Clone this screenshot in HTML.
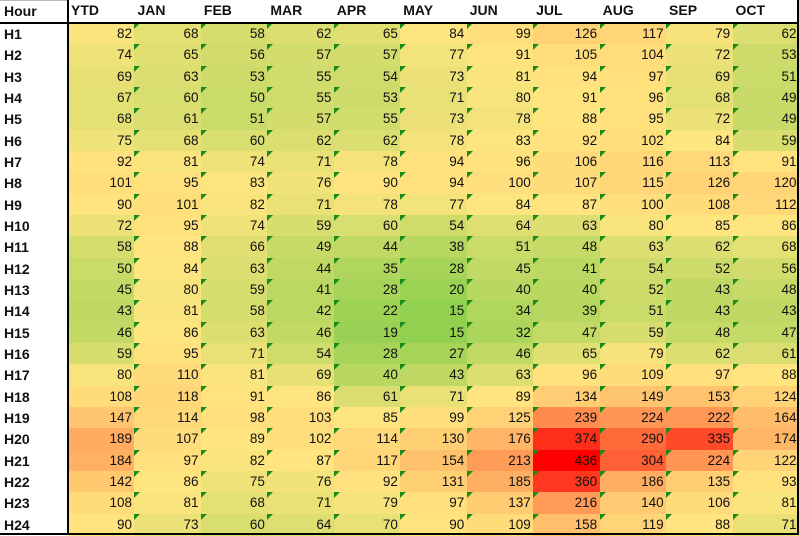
<!DOCTYPE html>
<html><head><meta charset="utf-8"><style>
body{margin:0;width:799px;height:535px;overflow:hidden;background:#fff;font-family:"Liberation Sans",Arial,sans-serif;}
.c{position:absolute;box-sizing:border-box;font-size:13.5px;line-height:21px;color:#111;}
.h{font-weight:bold;font-size:14px;}
.tri{position:absolute;left:0;top:0;width:0;height:0;border-top:6px solid #1a8a1a;border-right:6px solid transparent;}
.ln{position:absolute;background:#000;}
</style></head><body><div id="g"></div>
<script>
var data=`82 68 58 62 65 84 99 126 117 79 62
74 65 56 57 57 77 91 105 104 72 53
69 63 53 55 54 73 81 94 97 69 51
67 60 50 55 53 71 80 91 96 68 49
68 61 51 57 55 73 78 88 95 72 49
75 68 60 62 62 78 83 92 102 84 59
92 81 74 71 78 94 96 106 116 113 91
101 95 83 76 90 94 100 107 115 126 120
90 101 82 71 78 77 84 87 100 108 112
72 95 74 59 60 54 64 63 80 85 86
58 88 66 49 44 38 51 48 63 62 68
50 84 63 44 35 28 45 41 54 52 56
45 80 59 41 28 20 40 40 52 43 48
43 81 58 42 22 15 34 39 51 43 43
46 86 63 46 19 15 32 47 59 48 47
59 95 71 54 28 27 46 65 79 62 61
80 110 81 69 40 43 63 96 109 97 88
108 118 91 86 61 71 89 134 149 153 124
147 114 98 103 85 99 125 239 224 222 164
189 107 89 102 114 130 176 374 290 335 174
184 97 82 87 117 154 213 436 304 224 122
142 86 75 76 92 131 185 360 186 135 93
108 81 68 71 79 97 137 216 140 106 81
90 73 60 64 70 90 109 158 119 88 71`.split("\n").map(r=>r.split(" ").map(Number));
var hd=["YTD","JAN","FEB","MAR","APR","MAY","JUN","JUL","AUG","SEP","OCT"];
var g=document.getElementById("g"),s="";
var X0=68,W=66.45,Y0=23,H=21.33;
var G=[146,208,80],Yc=[255,229,128],R=[255,0,0],mn=15,md=85,mx=436;
function col(v){var a,b,t;if(v<=md){a=G;b=Yc;t=(v-mn)/(md-mn);}else{a=Yc;b=R;t=Math.pow((v-md)/(mx-md),1.15);}
return "rgb("+a.map((x,i)=>Math.round(x+(b[i]-x)*t)).join(",")+")";}
s+='<div class="c h" style="left:0;top:0;width:68px;height:23px;padding-left:4px;border-top:1px solid #bbb">Hour</div>';
hd.forEach((h,j)=>{s+='<div class="c h" style="left:'+(X0+j*W+3)+'px;top:0;width:'+W+'px;height:23px;">'+h+'</div>';});
data.forEach((r,i)=>{var y=Y0+i*H;
s+='<div class="c h" style="left:0;top:'+y+'px;width:68px;height:'+H+'px;padding-left:4px;line-height:'+(H+1)+'px">H'+(i+1)+'</div>';
r.forEach((v,j)=>{var x=X0+j*W;
s+='<div class="c" style="left:'+x+'px;top:'+y+'px;width:'+(W+0.6)+'px;height:'+(H+0.6)+'px;background:'+col(v)+';text-align:right;padding-right:3px;line-height:'+(H+1)+'px">'+(j>0?'<span class="tri"></span>':'')+v+'</div>';});});
s+='<div class="ln" style="left:0;top:22px;width:799px;height:2px"></div>';
s+='<div class="ln" style="left:67px;top:0;width:2px;height:535px"></div>';
s+='<div class="ln" style="left:0;top:533px;width:799px;height:2px"></div>';
s+='<div class="ln" style="left:797px;top:0;width:2px;height:535px"></div>';
g.innerHTML=s;
</script></body></html>
